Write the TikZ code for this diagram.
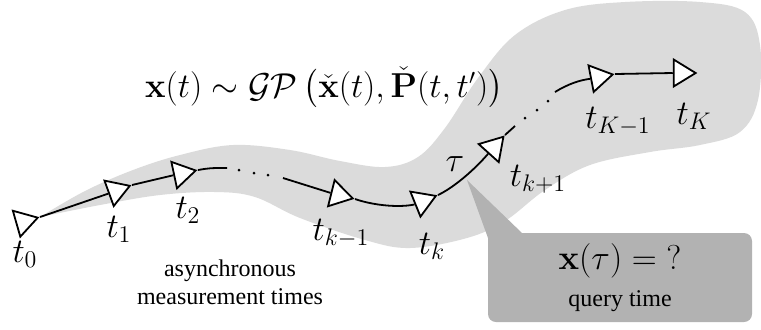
\documentclass[tikz,border=0pt]{standalone}
\usepackage[no-math]{fontspec}
\setmainfont{Liberation Serif}
\usepackage{amsmath,amssymb}
\usetikzlibrary{shapes.geometric}

\begin{document}
\begin{tikzpicture}[x=0.5pt,y=-0.5pt,
    tri/.style={draw,fill=white,line width=.9pt,isosceles triangle,isosceles triangle stretches,
      minimum width=13.5pt,minimum height=11pt,inner sep=0pt,anchor=apex},
    conn/.style={line width=.9pt},
    lbl/.style={font=\LARGE},
    note/.style={font={\fontsize{12}{14}\selectfont},align=center}]
  \useasboundingbox (0,0) rectangle (761,329);

  % light band of the GP
  \fill[black!14] plot[smooth,tension=.6] coordinates {
    (40,217) (85,191) (133,170) (180,155) (233,145) (290,150) (340,161) (385,167)
    (418,157) (445,128) (478,78) (515,35) (565,10) (625,2) (700,2) (745,12)
    (760,45) (758,100) (740,132) (700,145) (650,152) (590,165) (545,190) (505,221)
    (467,238) (410,248) (365,240) (300,218) (255,197) (215,192) (160,195) (100,205) (40,217)} -- cycle;

  % query box
  \node[fill=black!30,rounded corners=4pt,minimum width=132pt,minimum height=44.5pt,
    inner sep=0pt,align=center] (query) at (620,277.5)
    {{\fontsize{16}{19}\selectfont$\mathbf{x}(\tau) = {?}$}\\[5pt]{\fontsize{12}{14}\selectfont query time}};
  \coordinate (tip) at (467,180);
  \fill[black!30] (tip) -- (488,238) -- (488,252) -- (522,233) -- cycle;

  % measurement times
  \node[tri,rotate=16] (t0) at (40,217) {};
  \node[tri,rotate=20] (t1) at (132,185) {};
  \node[tri,rotate=12] (t2) at (198,170) {};
  \node[tri,rotate=-14] (tkm) at (355,199) {};
  \node[tri,rotate=22] (tk) at (438,195) {};
  \node[tri,rotate=48] (tkp) at (505,135) {};
  \node[tri,rotate=11] (tKm) at (615,74) {};
  \node[tri] (tK) at (698,73) {};

  \coordinate (g1) at (227,168);
  \coordinate (g2) at (283,178);
  \coordinate (g3) at (515,126);
  \coordinate (g4) at (555,92);

  \draw[conn] (t0.apex) -- (t1.lower side);
  \draw[conn] (t1.apex) -- (t2.lower side);
  \draw[conn] (t2.apex) .. controls (210,168) .. (g1);
  \foreach \p in {(239,170),(254,173),(268,175)}
    \fill \p circle[radius=.75pt];
  \draw[conn] (g2) -- (tkm.lower side);
  \draw[conn] (tkm.apex) .. controls (372,205) and (398,208) .. (tk.lower side);
  \draw[conn] (tk.apex) .. controls (455,187) and (476,168) .. (tkp.lower side);
  \draw[conn] (tkp.apex) -- (g3);
  \foreach \p in {(525,118),(537,110),(548,101)}
    \fill \p circle[radius=.75pt];
  \draw[conn] (g4) .. controls (568,84) and (580,80) .. (tKm.lower side);
  \draw[conn] (tKm.apex) -- (tK.lower side);

  % labels
  \node[lbl] (l0) at (25,254) {$t_0$};
  \node[lbl] (l1) at (119,229) {$t_1$};
  \node[lbl] (l2) at (188,210) {$t_2$};
  \node[lbl] (lkm) at (341,233) {$t_{k-1}$};
  \node[lbl] (lk) at (432,246) {$t_k$};
  \node[lbl] (ltau) at (455,164) {$\tau$};
  \node[lbl] (lkp) at (538,179) {$t_{k+1}$};
  \node[lbl] (lKm) at (618,121) {$t_{K-1}$};
  \node[lbl] (lK) at (694,116) {$t_K$};

  \node[font={\fontsize{16}{19}\selectfont}] (gp) at (324,88)
    {$\mathbf{x}(t) \sim \mathcal{GP}\,\bigl(\check{\mathbf{x}}(t), \check{\mathbf{P}}(t,t')\bigr)$};
  \node[note] (async) at (230,282) {asynchronous\\measurement times};
\end{tikzpicture}
\end{document}
